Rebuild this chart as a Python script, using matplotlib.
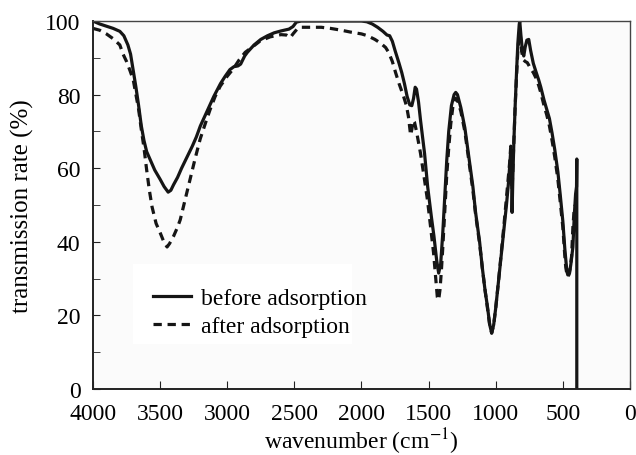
import matplotlib
matplotlib.use('Agg')
import matplotlib.pyplot as plt
from matplotlib.patches import Rectangle
from matplotlib.ticker import MultipleLocator

plt.rcParams['font.family'] = ['Liberation Serif', 'DejaVu Serif']
plt.rcParams['mathtext.fontset'] = 'stix'

# spectrum (wavenumber in cm-1, transmission in %)
before_wn = [4000, 3950, 3900, 3850, 3800, 3770, 3740, 3720, 3700, 3680,
             3660, 3640, 3620, 3600, 3570, 3540, 3500, 3470, 3440, 3420,
             3400, 3370, 3340, 3300, 3260, 3230, 3200, 3150, 3100, 3050,
             3015, 2980, 2950, 2920, 2900, 2870, 2850, 2800, 2750, 2700,
             2650, 2600, 2540, 2510, 2485, 2450, 2000, 1960, 1920, 1880,
             1840, 1810, 1790, 1770, 1750, 1720, 1700, 1680, 1660, 1640,
             1625, 1612, 1600, 1590, 1575, 1560, 1530, 1507, 1480, 1460,
             1440, 1425, 1410, 1395, 1380, 1365, 1350, 1330, 1310, 1298,
             1285, 1260, 1230, 1200, 1170, 1150, 1120, 1100, 1080, 1060,
             1045, 1030, 1015, 1000, 980, 960, 940, 920, 905, 895,
             888, 882, 878, 872, 865, 855, 845, 835, 825, 821,
             812, 800, 791, 780, 768, 754, 740, 720, 700, 680,
             664, 640, 620, 600, 580, 560, 537, 520, 500, 485,
             470, 463, 450, 440, 425, 415, 405, 398, 396, 396]
before_t = [100, 99.2, 98.6, 98, 97.2, 96, 93.5, 91, 86.5, 82,
            77, 71.5, 67.5, 64.5, 62, 59.5, 57, 55, 53.5, 54,
            55.5, 57.5, 60, 63, 66, 68.5, 71.5, 75.5, 79.5, 83,
            85, 86.8, 87.6, 87.8, 88.3, 90.5, 91.5, 93.5, 95, 96,
            96.8, 97.3, 97.8, 98.5, 99.7, 100, 100, 99.8, 99.2, 98.3,
            97.2, 96.2, 96, 94.5, 92, 88.5, 86, 83, 79.5, 77.2,
            77, 79, 82, 81.5, 78, 73, 64, 55, 47, 41.5,
            35, 31.5, 34, 42, 52, 62, 70, 77, 80, 80.6,
            80, 76.5, 71, 63, 55, 48, 40, 33, 27, 22,
            17.5, 15.2, 17.5, 22, 29, 36, 43, 50, 56, 61,
            65, 60, 48, 58, 67, 77, 86, 94, 99, 100,
            96, 91.5, 90.5, 93, 94.8, 95, 92, 88.5, 86.2, 84,
            82, 78.5, 76, 73.5, 69.5, 65, 59, 53, 45.6, 38,
            32, 31, 31.5, 34, 38.6, 47, 53, 55, 62.5, 0]

after_wn = [4000, 3950, 3900, 3850, 3800, 3776, 3750, 3724, 3700, 3680,
            3660, 3640, 3620, 3600, 3580, 3560, 3530, 3500, 3470, 3448,
            3430, 3400, 3370, 3350, 3320, 3276, 3240, 3201, 3160, 3127,
            3090, 3052, 3000, 2955, 2910, 2866, 2800, 2754, 2680, 2600,
            2560, 2530, 2510, 2480, 2455, 2300, 2231, 2150, 2082, 2000,
            1955, 1900, 1858, 1820, 1798, 1770, 1746, 1720, 1687, 1665,
            1650, 1634, 1625, 1615, 1605, 1590, 1575, 1560, 1535, 1507,
            1485, 1463, 1445, 1435, 1425, 1415, 1405, 1395, 1380, 1365,
            1351, 1335, 1320, 1298, 1285, 1260, 1230, 1200, 1170, 1150,
            1120, 1100, 1080, 1060, 1045, 1030, 1015, 1000, 980, 960,
            940, 920, 905, 895, 888, 882, 878, 872, 865, 855,
            845, 835, 825, 818, 808, 795, 780, 765, 754, 740,
            720, 700, 680, 664, 640, 620, 600, 580, 560, 537,
            520, 500, 485, 478, 466, 455, 445, 435, 425, 415, 408]
after_t = [98, 97.5, 96.5, 95.2, 93.5, 91, 89, 86.5, 84, 80,
           76, 70.5, 65.5, 59.5, 54, 49.5, 45, 42.5, 39.8, 38.6,
           39.5, 41.5, 44, 46, 50.5, 57, 62.5, 68, 72.5, 76,
           79.5, 82.3, 85, 87, 89.5, 91.5, 93.3, 94.6, 95.7, 96.3,
           96.2, 95.5, 96.5, 97.8, 98.3, 98.3, 98, 97.5, 97, 96.5,
           96, 95, 94, 92.8, 91.5, 89, 86, 83, 79.6, 77,
           74, 69, 70.5, 73, 72.5, 70, 67, 64, 58, 51,
           44, 37, 29.5, 25, 24.2, 27, 32, 38, 48, 58,
           65, 72, 76.5, 79, 78.5, 75.5, 70, 62, 54, 47.5,
           39.5, 33, 27, 21.5, 17.5, 15.2, 17.5, 22, 29, 36.5,
           44, 52, 58, 62, 66, 61, 54, 60, 67, 77,
           85, 92, 96, 97, 92, 89.5, 89, 88.7, 88, 87,
           86, 84.5, 82.5, 80.5, 77, 74.5, 71.5, 67.5, 63, 57,
           51, 44, 36, 33, 30.5, 31, 33, 36, 44, 49, 50]

x_ticks = [4000, 3500, 3000, 2500, 2000, 1500, 1000, 500, 0]
y_ticks = [0, 20, 40, 60, 80, 100]

fig = plt.figure(figsize=(6.36, 4.56), dpi=100)
ax = fig.add_axes([0.1462, 0.1447, 0.8443, 0.807])
ax.set_facecolor('#fbfbfb')

# faint white panel behind the legend, as in the scan
ax.add_patch(Rectangle((0.074, 0.122), 0.408, 0.218, transform=ax.transAxes,
                       facecolor='white', edgecolor='none', zorder=0.5))

ax.plot(before_wn, before_t, color='#151515', lw=2.3,
        label='before adsorption', solid_joinstyle='round')
ax.plot(after_wn, after_t, color='#151515', lw=2.3,
        linestyle=(0, (2.6, 1.8)), label='after adsorption')

ax.set_xlim(4000, 0)
ax.set_ylim(0, 100)
ax.set_xticks(x_ticks)
ax.set_yticks(y_ticks)
ax.yaxis.set_minor_locator(MultipleLocator(10))
ax.tick_params(axis='both', which='both', direction='in', labelsize=17,
               color='#222222', top=False, right=False)
ax.tick_params(axis='x', which='major', length=6, pad=10)
ax.tick_params(axis='y', which='major', length=5, pad=9)
ax.tick_params(axis='y', which='minor', length=5)

for side in ['left', 'bottom']:
    ax.spines[side].set_linewidth(1.4)
    ax.spines[side].set_color('#222222')
for side in ['top', 'right']:
    ax.spines[side].set_linewidth(1.0)
    ax.spines[side].set_color('#444444')

ax.set_xlabel('wavenumber (cm$^{-1}$)', fontsize=17, labelpad=1)
ax.set_ylabel('transmission rate (%)', fontsize=18, labelpad=8)

leg = ax.legend(loc='upper left', bbox_to_anchor=(0.112, 0.275),
                fontsize=17, frameon=False,
                handlelength=1.6, handletextpad=0.42, labelspacing=0.25,
                borderpad=0, borderaxespad=0)

fig.savefig('out.png', dpi=100)
